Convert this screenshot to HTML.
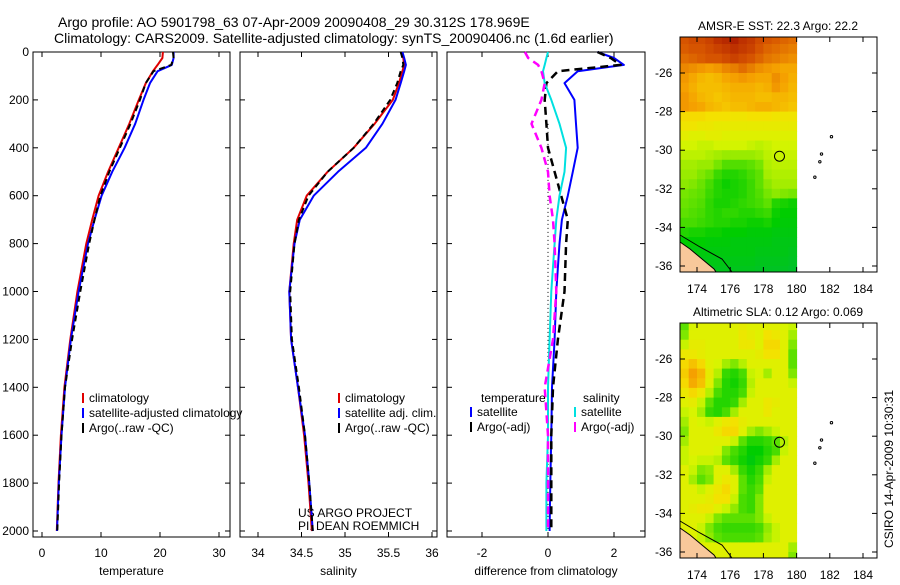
<!DOCTYPE html>
<html><head><meta charset="utf-8"><style>
body{margin:0;background:#fff;width:900px;height:580px;overflow:hidden}
svg text{font-family:"Liberation Sans",sans-serif;font-size:12px;fill:#000}
</style></head><body>
<svg id="s" width="900" height="580">
<text x="58" y="27" style="font-size:14px">Argo profile: AO 5901798_63 07-Apr-2009 20090408_29 30.312S 178.969E</text>
<text x="54" y="43" style="font-size:14px">Climatology: CARS2009. Satellite-adjusted climatology: synTS_20090406.nc (1.6d earlier)</text>
<text x="893" y="548" transform="rotate(-90 893 548)">CSIRO 14-Apr-2009 10:30:31</text>
<text x="298" y="517">US ARGO PROJECT</text>
<text x="298" y="530">PI: DEAN ROEMMICH</text>
<g id="g"></g>
</svg>
<script>
// ---- data ----
const depths=[0,25,54,80,130,200,300,400,500,600,700,800,1000,1200,1400,1600,1800,2000];
const tempClim=[20.5,20.4,19.6,18.8,17.6,16.4,14.8,13.0,11.2,9.6,8.5,7.5,6.0,4.8,3.8,3.2,2.8,2.5];
const tempSat=[22.3,22.3,22.0,19.6,18.3,17.2,15.8,14.0,11.9,10.1,8.9,7.8,6.2,4.9,3.9,3.3,2.85,2.55];
const tempArgo=[22.2,22.3,21.9,18.9,17.6,16.6,15.0,13.2,11.4,9.9,8.9,8.0,6.5,5.1,3.9,3.3,2.9,2.6];
const salClim=[35.65,35.67,35.68,35.66,35.62,35.55,35.34,35.1,34.8,34.56,34.45,34.41,34.36,34.38,34.46,34.53,34.58,34.62];
const salSat=[35.66,35.68,35.7,35.68,35.64,35.58,35.43,35.24,34.92,34.64,34.48,34.42,34.36,34.38,34.46,34.54,34.59,34.63];
const salArgo=[35.64,35.66,35.67,35.64,35.6,35.52,35.33,35.1,34.8,34.58,34.47,34.42,34.37,34.39,34.47,34.54,34.59,34.63];
const dTempSat=[1.5,2.0,2.3,0.9,0.5,0.8,0.85,0.9,0.75,0.6,0.42,0.35,0.25,0.2,0.12,0.1,0.07,0.05];
const dTempArgo=[1.5,1.9,2.2,0.3,-0.05,-0.1,-0.05,0.0,0.2,0.4,0.6,0.55,0.5,0.3,0.15,0.1,0.1,0.1];
const dSalSat=[0.0,-0.05,-0.1,-0.15,-0.1,0.1,0.35,0.55,0.5,0.35,0.25,0.2,0.1,0.05,0.0,0.0,-0.05,-0.05];
const dSalArgo=[-0.7,-0.6,-0.3,-0.2,-0.1,-0.2,-0.5,-0.2,0.0,0.05,0.15,0.2,0.25,0.15,-0.1,0.0,0.0,0.0];
const depthTicks=[0,200,400,600,800,1000,1200,1400,1600,1800,2000];
const tempTicks=[0,10,20,30], salTicks=[34,34.5,35,35.5,36], diffTicks=[-2,0,2];
const lonTicks=[174,176,178,180,182,184], latTicks=[-26,-28,-30,-32,-34,-36];
const sstRows=[
[24.5,24.6,24.6,24.7,24.9,25.0,25.1,24.9,24.8,24.6,24.5,24.4,24.3,24.2],
[24.4,24.5,24.5,24.6,24.7,24.8,24.9,24.8,24.7,24.5,24.3,24.2,24.1,24.0],
[24.2,24.3,24.4,24.5,24.5,24.6,24.7,24.6,24.5,24.3,24.1,24.0,23.9,23.8],
[23.9,23.8,23.7,23.6,23.7,23.9,24.0,24.2,24.0,23.8,23.7,23.6,23.5,23.5],
[23.7,23.5,23.3,23.2,23.3,23.5,23.6,23.7,23.6,23.5,23.5,23.8,23.6,23.4],
[23.6,23.4,23.2,23.2,23.2,23.3,23.4,23.4,23.4,23.3,23.4,23.7,23.5,23.3],
[23.7,23.5,23.3,23.2,23.1,23.2,23.3,23.3,23.3,23.2,23.2,23.3,23.3,23.2],
[23.7,23.6,23.5,23.3,23.2,23.1,23.2,23.2,23.3,23.4,23.4,23.3,23.2,23.1],
[22.8,22.8,22.8,22.7,22.7,22.7,22.6,22.6,22.7,22.7,22.7,22.6,22.6,22.6],
[22.6,22.6,22.5,22.5,22.4,22.4,22.4,22.4,22.4,22.4,22.4,22.4,22.4,22.4],
[22.3,22.2,22.2,22.3,22.3,22.2,22.2,22.2,22.2,22.2,22.2,22.2,22.2,22.2],
[22.0,22.0,21.9,21.9,22.0,22.0,22.0,22.0,21.9,21.8,21.9,22.0,22.0,22.0],
[21.8,21.8,21.8,21.7,21.6,21.5,21.5,21.5,21.5,21.6,21.8,21.9,21.9,21.9],
[21.6,21.6,21.5,21.5,21.2,20.9,20.9,20.9,21.0,21.2,21.7,21.8,21.8,21.8],
[21.5,21.5,21.3,21.1,20.7,20.5,20.5,20.6,20.8,21.0,21.6,21.7,21.7,21.7],
[21.4,21.3,21.1,20.8,20.5,20.3,20.4,20.5,20.7,21.0,21.4,21.6,21.6,21.6],
[21.2,21.1,21.0,20.7,20.5,20.4,20.4,20.5,20.7,20.9,21.2,21.4,21.3,21.2],
[21.1,21.0,20.9,20.6,20.4,20.4,20.5,20.6,20.7,20.8,21.0,20.5,20.4,20.3],
[21.0,20.9,20.8,20.6,20.5,20.6,20.6,20.5,20.5,20.6,20.7,20.3,20.2,20.2],
[20.8,20.8,20.7,20.6,20.5,20.5,20.4,20.4,20.3,20.3,20.4,20.2,20.1,20.1],
[20.5,20.4,20.4,20.3,20.3,20.2,20.2,20.2,20.1,20.1,20.1,20.0,20.0,20.0],
[20.2,20.2,20.2,20.1,20.1,20.1,20.0,20.0,20.0,20.0,20.0,19.9,19.9,19.9],
[20.0,20.0,20.0,20.0,20.0,20.0,20.0,20.0,20.0,19.9,19.9,19.9,19.9,19.8],
[19.9,19.9,19.9,19.9,19.9,19.9,19.9,19.9,19.9,19.8,19.8,19.8,19.8,19.7],
[19.8,19.8,19.8,19.8,19.8,19.8,19.8,19.8,19.8,19.7,19.7,19.7,19.7,19.6]];
const slaRows=[
[0.00,0.07,0.08,0.08,0.08,0.08,0.08,0.09,0.08,0.08,0.08,0.08,0.07,0.06],
[0.02,0.08,0.08,0.08,0.08,0.08,0.08,0.10,0.09,0.08,0.11,0.10,0.08,0.04],
[0.06,0.09,0.09,0.08,0.08,0.08,0.08,0.10,0.10,0.08,0.12,0.12,0.08,0.02],
[0.10,0.10,0.09,0.08,0.08,0.08,0.08,0.08,0.08,0.09,0.11,0.11,0.08,0.00],
[0.12,0.14,0.12,0.08,0.07,0.04,0.02,0.05,0.08,0.08,0.08,0.08,0.08,0.00],
[0.13,0.17,0.15,0.09,0.05,-0.02,-0.03,-0.01,0.06,0.07,0.04,0.08,0.08,0.02],
[0.12,0.16,0.14,0.08,0.02,-0.03,-0.04,-0.02,0.05,0.08,0.08,0.08,0.08,0.06],
[0.10,0.12,0.10,0.05,-0.01,-0.03,-0.03,-0.01,0.06,0.08,0.08,0.08,0.08,0.08],
[0.08,0.09,0.06,0.00,-0.03,-0.03,-0.02,0.04,0.08,0.08,0.10,0.09,0.08,0.08],
[0.06,0.07,0.04,-0.02,-0.03,-0.01,0.04,0.08,0.08,0.08,0.10,0.08,0.08,0.08],
[0.04,0.08,0.07,0.06,0.08,0.10,0.11,0.09,0.08,0.08,0.08,0.08,0.08,0.08],
[0.02,0.08,0.08,0.08,0.10,0.12,0.12,0.08,0.04,0.02,0.04,0.06,0.08,0.08],
[0.04,0.08,0.08,0.08,0.08,0.08,0.06,0.00,-0.03,-0.03,-0.02,0.00,0.05,0.08],
[0.06,0.08,0.08,0.08,0.07,0.02,-0.01,-0.03,-0.05,-0.05,-0.03,-0.01,0.06,0.08],
[0.06,0.07,0.06,0.06,0.05,0.00,-0.02,-0.04,-0.06,-0.04,-0.02,0.04,0.08,0.08],
[0.08,0.06,0.02,0.03,0.08,0.08,0.04,-0.02,-0.04,-0.02,0.04,0.08,0.08,0.08],
[0.08,0.04,0.00,0.02,0.08,0.10,0.08,0.00,-0.03,-0.01,0.06,0.08,0.08,0.08],
[0.08,0.08,0.06,0.08,0.10,0.12,0.08,0.00,-0.02,0.00,0.08,0.08,0.08,0.08],
[0.08,0.08,0.08,0.09,0.11,0.11,0.06,-0.01,-0.02,0.02,0.08,0.08,0.08,0.08],
[0.08,0.09,0.10,0.10,0.08,0.06,0.03,-0.01,-0.02,0.02,0.08,0.08,0.08,0.08],
[0.08,0.08,0.08,0.06,0.02,0.00,0.00,0.00,0.00,0.02,0.06,0.08,0.08,0.08],
[0.08,0.08,0.06,0.02,-0.01,-0.02,-0.02,-0.02,-0.02,-0.01,0.03,0.06,0.08,0.08],
[0.08,0.08,0.06,0.03,0.00,-0.01,-0.01,-0.01,-0.01,0.00,0.04,0.06,0.08,0.08],
[0.08,0.08,0.08,0.08,0.08,0.08,0.08,0.08,0.08,0.08,0.08,0.08,0.08,0.04],
[0.08,0.08,0.08,0.08,0.08,0.08,0.08,0.08,0.08,0.08,0.08,0.08,0.08,0.02]];
const floatLon=178.969, floatLat=-30.312;
// ---- drawing ----
const NS='http://www.w3.org/2000/svg', G=document.getElementById('g');
function el(t,a,p){const e=document.createElementNS(NS,t);for(const k in a)e.setAttribute(k,a[k]);(p||G).appendChild(e);return e;}
function lin(d0,d1,r0,r1){return v=>r0+(v-d0)*(r1-r0)/(d1-d0);}
const yD=lin(0,2000,52,531);
function panel(name,x0,x1,xs,ticks,label,showY){
  const b=el('rect',{x:x0,y:52,width:x1-x0,height:485,fill:'none',stroke:'#000'});
  
  ticks.forEach(t=>{const x=xs(t);el('line',{x1:x,x2:x,y1:537,y2:532,stroke:'#000'});el('line',{x1:x,x2:x,y1:52,y2:57,stroke:'#000'});
    const tx=el('text',{x:x,y:557,'text-anchor':'middle'});tx.textContent=t;
    });
  depthTicks.forEach(d=>{const y=yD(d);el('line',{x1:x0,x2:x0+5,y1:y,y2:y,stroke:'#000'});el('line',{x1:x1,x2:x1-5,y1:y,y2:y,stroke:'#000'});
    if(showY){const tx=el('text',{x:x0-4,y:y+4,'text-anchor':'end'});tx.textContent=d;
      }});
  const lb=el('text',{x:(x0+x1)/2,y:575,'text-anchor':'middle'});lb.textContent=label;
  
}
function line(name,xs,vals,color,dash,w){
  const pts=vals.map((v,i)=>xs(v).toFixed(1)+','+yD(depths[i]).toFixed(1)).join(' ');
  const p=el('polyline',{points:pts,fill:'none',stroke:color,'stroke-width':w||2,'stroke-dasharray':dash||'none','stroke-linejoin':'round'});
  
}
function legend(x,y,items){items.forEach((it,i)=>{const yy=y+i*15;
  el('line',{x1:x,x2:x,y1:yy-9,y2:yy+1,stroke:it[1],'stroke-width':2});
  const t=el('text',{x:x+6,y:yy});t.textContent=it[0];
  });}
const xT=lin(0,30,42,219), xS=lin(34,36,258,432), xDf=lin(-2,2,482,614);
panel('temperature-panel',33,230,xT,tempTicks,'temperature',true);
line('temp-climatology-line',xT,tempClim,'#e00000');
line('temp-satellite-line',xT,tempSat,'#0000ff');
line('temp-argo-line',xT,tempArgo,'#000','6,4');
legend(83,402,[['climatology','#e00000'],['satellite-adjusted climatology','#0000ff'],['Argo(..raw -QC)','#000']]);
panel('salinity-panel',240,437,xS,salTicks,'salinity',false);
line('sal-climatology-line',xS,salClim,'#e00000');
line('sal-satellite-line',xS,salSat,'#0000ff');
line('sal-argo-line',xS,salArgo,'#000','6,4');
legend(339,402,[['climatology','#e00000'],['satellite adj. clim.','#0000ff'],['Argo(..raw -QC)','#000']]);
panel('difference-panel',447,645,xDf,diffTicks,'difference from climatology',false);
const z=el('line',{x1:xDf(0),x2:xDf(0),y1:yD(300),y2:yD(2000),stroke:'#000','stroke-dasharray':'1,3'});

line('diff-temp-satellite-line',xDf,dTempSat,'#0000ff');
line('diff-temp-argo-line',xDf,dTempArgo,'#000','8,5',2.5);
line('diff-sal-satellite-line',xDf,dSalSat,'#00e0e0');
line('diff-sal-argo-line',xDf,dSalArgo,'#ff00ff','8,5',2.5);
const lt=el('text',{x:481,y:402});lt.textContent='temperature';
const ls=el('text',{x:583,y:402});ls.textContent='salinity';
legend(471,416,[['satellite','#0000ff'],['Argo(-adj)','#000']]);
legend(575,416,[['satellite','#00e0e0'],['Argo(-adj)','#ff00ff']]);
// colormap
const stops=[[0,[0,170,120]],[0.25,[0,205,0]],[0.4,[120,230,0]],[0.52,[215,245,0]],[0.62,[245,225,0]],[0.75,[245,160,0]],[0.88,[215,85,0]],[1,[165,15,0]]];
function cmap(t){t=Math.max(0,Math.min(1,t));for(let i=1;i<stops.length;i++){if(t<=stops[i][0]){const a=stops[i-1],b=stops[i],f=(t-a[0])/(b[0]-a[0]);
  return 'rgb('+a[1].map((c,k)=>Math.round(c+(b[1][k]-c)*f)).join(',')+')';}}return 'rgb(165,15,0)';}
function map(name,y0,title,rows,vmin,vmax){
  const xL=lin(174,184,697,863), yL=lin(-26,-36,y0+36,y0+229);
  const tt=el('text',{x:778,y:y0-7,'text-anchor':'middle'});tt.textContent=title;
  
  rows.forEach((r,i)=>r.forEach((v,j)=>{const lon=173+j*0.5,lat=-24+i*-0.5;
    const x=xL(lon),y=Math.max(y0,yL(lat)),y2=Math.min(y0+235,yL(lat-0.5));
    const c=el('rect',{x:x.toFixed(1),y:y.toFixed(1),width:(xL(lon+0.5)-x+0.5).toFixed(1),height:Math.max(0,y2-y+0.5).toFixed(1),fill:cmap((v-vmin)/(vmax-vmin))});
    }));
  const ld=el('path',{d:'M680,'+(y0+205)+' L690,'+(y0+212)+' L702,'+(y0+222)+' L714,'+(y0+232)+' L716,'+(y0+235)+' L680,'+(y0+235)+' Z',fill:'#f8c89a',stroke:'#000','stroke-width':1});
  
  el('path',{d:'M680,'+(y0+198)+' L700,'+(y0+210)+' L722,'+(y0+222)+' L732,'+(y0+235),fill:'none',stroke:'#000','stroke-width':1});
  el('rect',{x:680,y:y0,width:197,height:235,fill:'none',stroke:'#000'});
  lonTicks.forEach(l=>{const x=xL(l);el('line',{x1:x,x2:x,y1:y0+235,y2:y0+230,stroke:'#000'});el('line',{x1:x,x2:x,y1:y0,y2:y0+5,stroke:'#000'});
    const t=el('text',{x:x,y:y0+256,'text-anchor':'middle'});t.textContent=l;
    });
  latTicks.forEach(l=>{const y=yL(l);el('line',{x1:877,x2:872,y1:y,y2:y,stroke:'#000'});el('line',{x1:680,x2:685,y1:y,y2:y,stroke:'#000'});
    const t=el('text',{x:655,y:y+4});t.textContent=l;
    });
  const f=el('circle',{cx:xL(floatLon),cy:yL(floatLat),r:5,fill:'none',stroke:'#000'});
  
  [[182.1,-29.3],[181.5,-30.2],[181.4,-30.6],[181.1,-31.4]].forEach(p=>el('circle',{cx:xL(p[0]),cy:yL(p[1]),r:1.2,fill:'none',stroke:'#000'}));
}
map('sst-map',37,'AMSR-E SST: 22.3 Argo: 22.2',sstRows,18.5,25.3);
map('sla-map',323,'Altimetric SLA: 0.12 Argo: 0.069',slaRows,-0.16,0.28);
</script>
</body></html>
